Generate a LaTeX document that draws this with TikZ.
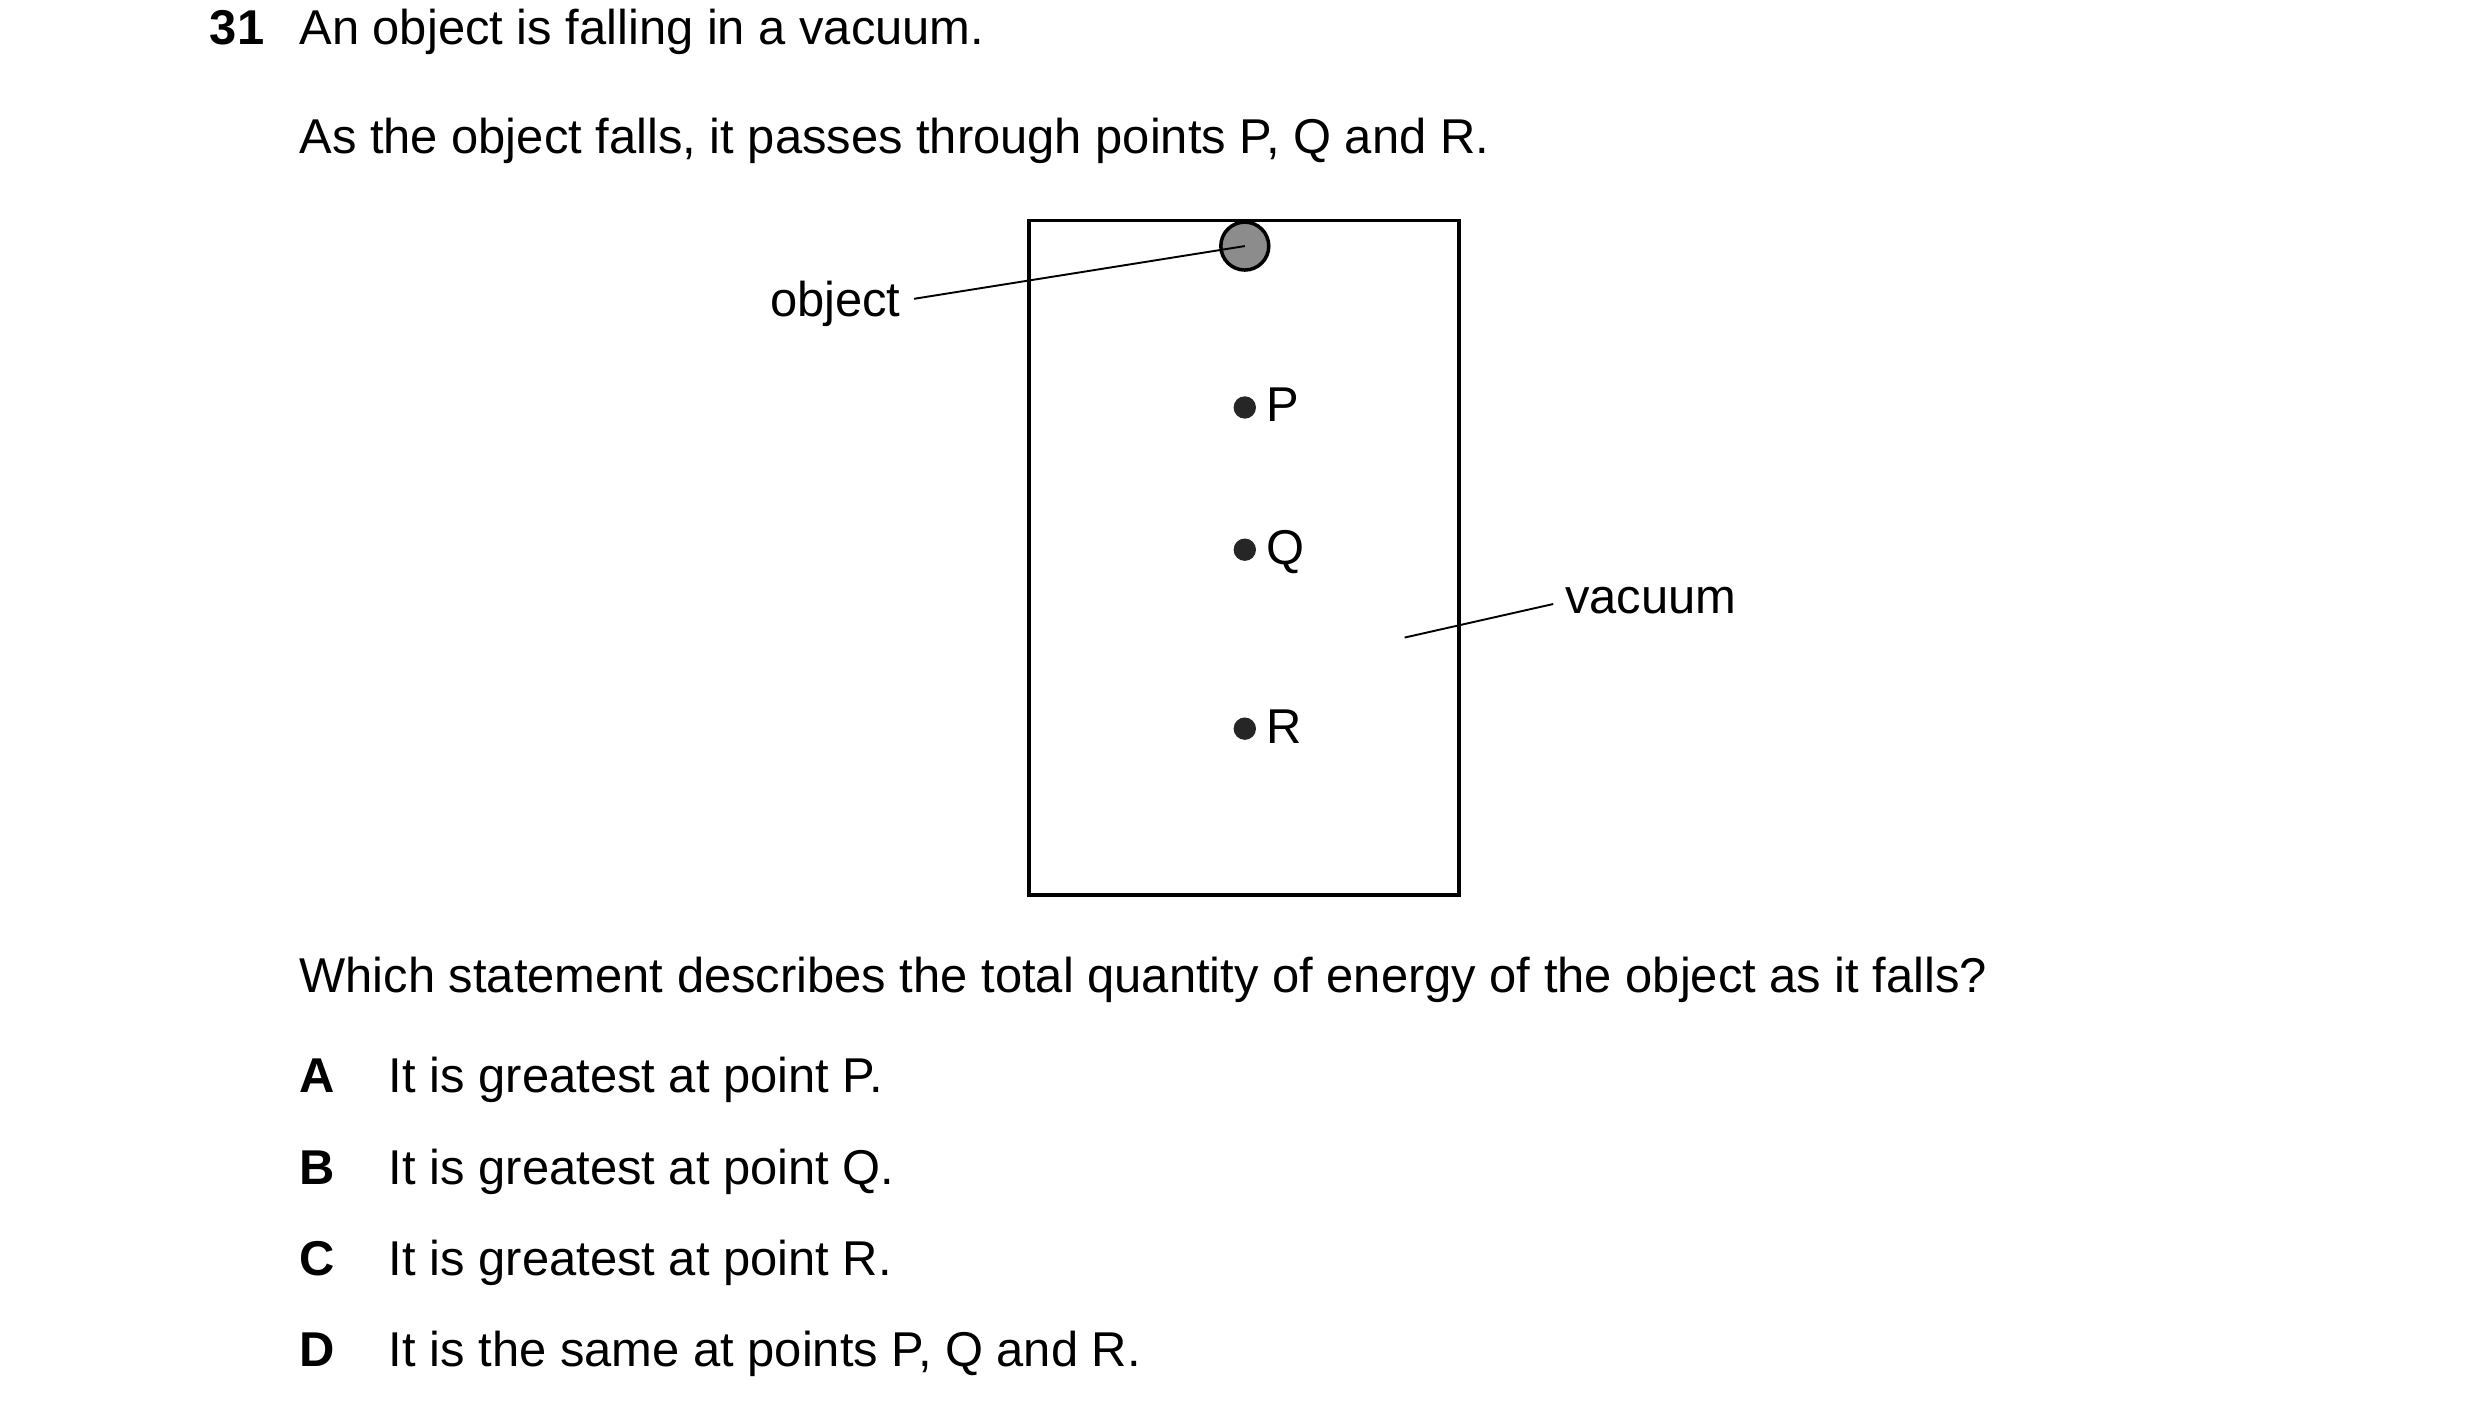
\documentclass[tikz,border=0pt]{standalone}
\usepackage{fontspec}
\setmainfont{Liberation Sans}
\begin{document}
\begin{tikzpicture}[x=0.5pt,y=-0.5pt,
  txt/.style={anchor=base west,inner sep=0pt,font=\fontsize{15.3}{18}\selectfont},
  bold/.style={txt,font=\fontsize{15.3}{18}\selectfont\bfseries},
  dot/.style={circle,fill=black!85,inner sep=0pt,minimum size=7pt},
  lead/.style={line width=0.6pt}]
\useasboundingbox (0,0) rectangle (1552,877);
\node[bold] (n31) at (131,28) {31};
\node[txt] (t1) at (187,28) {An object is falling in a vacuum.};
\node[txt] (t2) at (187,96) {As the object falls, it passes through points P, Q and R.};
\draw[line width=1.1pt] (644,138) rectangle (913,560);
\node[circle,draw,line width=1.1pt,fill=black!45,minimum size=15pt,inner sep=0pt] (obj) at (779,154) {};
\node[txt,anchor=base east] (olab) at (564,198) {object};
\draw[lead] (572,187) -- (obj.center);
\node[dot] (p) at (779,255) {};
\node[dot] (q) at (779,344) {};
\node[dot] (r) at (779,456) {};
\node[txt] (pl) at (792,264) {P};
\node[txt] (ql) at (792,353) {Q};
\node[txt] (rl) at (792,465) {R};
\coordinate (vin) at (879,399);
\node[txt] (vlab) at (979,384) {vacuum};
\draw[lead] (vin) -- (972,378);
\node[txt] (qq) at (187,621) {Which statement describes the total quantity of energy of the object as it falls?};
\node[bold] (a) at (187,684) {A};
\node[txt] (at) at (243,684) {It is greatest at point P.};
\node[bold] (b) at (187,741) {B};
\node[txt] (bt) at (243,741) {It is greatest at point Q.};
\node[bold] (c) at (187,798) {C};
\node[txt] (ct) at (243,798) {It is greatest at point R.};
\node[bold] (d) at (187,855) {D};
\node[txt] (dt) at (243,855) {It is the same at points P, Q and R.};
\end{tikzpicture}
\end{document}
